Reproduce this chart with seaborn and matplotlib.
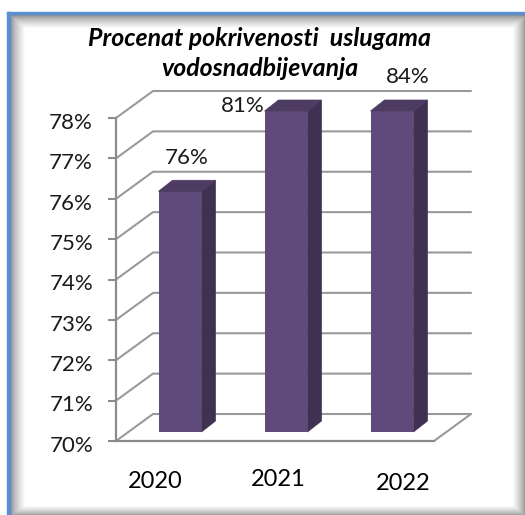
import matplotlib
matplotlib.use('Agg')
import matplotlib.pyplot as plt
import numpy as np
import seaborn as sns
from matplotlib.patches import Polygon, Rectangle
from matplotlib.lines import Line2D
from matplotlib.transforms import ScaledTranslation

years = ['2020', '2021', '2022']
values = [76, 81, 84]
y_ticks = [70, 71, 72, 73, 74, 75, 76, 77, 78]
title_lines = ['Procenat pokrivenosti  uslugama', 'vodosnadbijevanja']

sns.set_theme(style='white')
plt.rcParams['font.family'] = ['Lato', 'DejaVu Sans']

W, H = 525, 515
fig = plt.figure(figsize=(W / 100, H / 100), dpi=100)


def box(x0, y0, x1, y1):
    # pixel box (y from the top) to figure fractions
    return [x0 / W, 1 - y1 / H, (x1 - x0) / W, (y1 - y0) / H]


# picture frame with soft inner shadow
bg = fig.add_axes([0, 0, 1, 1], zorder=0)
bg.set_xlim(0, W)
bg.set_ylim(H, 0)
bg.axis('off')
yy, xx = np.mgrid[0:H, 0:W]
edge = np.minimum.reduce([(xx - 9) / 16.0, (yy - 14) / 14.0, (526 - xx) / 14.0, (516 - yy) / 11.0])
shade = np.clip(edge, 0, 1) ** 0.6
bg.imshow(0.45 + 0.55 * shade, cmap='gray', vmin=0, vmax=1, extent=(0, W, H, 0), aspect='auto')
bg.add_patch(Rectangle((0, 0), W, 13, color='white'))
bg.add_patch(Rectangle((0, 0), 7, H, color='white'))
bg.add_patch(Rectangle((7, 12), 518, 2, color='#5b8fd0'))
bg.add_patch(Rectangle((7, 12), 3, H, color='#5b8fd0'))

# front plane of the 3d box, holds the value axis
ax = fig.add_axes(box(116, 118, 434, 441), zorder=1)
ax.patch.set_alpha(0)
ax.set_xlim(0, 1)
ax.set_ylim(y_ticks[0], y_ticks[-1])
ax.set_yticks(y_ticks)
ax.set_yticklabels([f'{t}%' for t in y_ticks], fontsize=16, color='#1a1a1a')
ax.set_xticks([])
ax.tick_params(axis='y', length=5.5, width=1.5, color='#8c8c8c', left=True, pad=11)
for lab in ax.get_yticklabels():
    lab.set_transform(lab.get_transform() + ScaledTranslation(0, -2 / 72, fig.dpi_scale_trans))
for s in ['top', 'right']:
    ax.spines[s].set_visible(False)
for s in ['left', 'bottom']:
    ax.spines[s].set_color('#8c8c8c')
    ax.spines[s].set_linewidth(1.6)

# back wall gridlines and the slanted ones at the side
dx, dy = 37 / 318, 27 / (323 / 8)
for t in y_ticks:
    ax.add_line(Line2D([0, dx, 1 + dx], [t, t + dy, t + dy], color='#9a9a9a', lw=1.5, clip_on=False, zorder=1))
ax.add_line(Line2D([1, 1 + dx], [y_ticks[0], y_ticks[0] + dy], color='#9a9a9a', lw=1.5, clip_on=False, zorder=1))

# bars sit a bit inside the floor, so they get their own axes
ax_bar = fig.add_axes(box(127, 111, 445, 432), zorder=2)
ax_bar.patch.set_alpha(0)
sns.barplot(x=years, y=values, color='#604a7b', saturation=1, width=0.405, linewidth=0, ax=ax_bar)
ax_bar.set_xlim(-0.5, 2.5)
ax_bar.set_ylim(y_ticks[0], y_ticks[-1])
ax_bar.axis('off')

bx, by = 14 / 106, 11 / (321 / 8)
for p in ax_bar.patches[:len(values)]:
    x0 = p.get_x()
    x1 = x0 + p.get_width()
    top = min(p.get_height(), y_ticks[-1])
    ax_bar.add_patch(Polygon([(x1, 70), (x1 + bx, 70 + by), (x1 + bx, top + by), (x1, top)],
                             facecolor='#403152', edgecolor='#403152', lw=0.5, clip_on=False))
    ax_bar.add_patch(Polygon([(x0, top), (x0 + bx, top + by), (x1 + bx, top + by), (x1, top)],
                             facecolor='#4d3b62', edgecolor='#4d3b62', lw=0.5, clip_on=False))

# labels were dragged by hand in the original, so they go in by pixel
label_pos = [(187, 158), (243, 106), (408, 77)]
for v, (px, py) in zip(values, label_pos):
    fig.text(px / W, 1 - py / H, f'{v}%', fontsize=16, ha='center', va='center', color='#1a1a1a', zorder=5)

year_pos = [(155, 482), (278, 480), (403, 483)]
for yr, (px, py) in zip(years, year_pos):
    fig.text(px / W, 1 - py / H, yr, fontsize=17, ha='center', va='center', color='black', zorder=5)

for line, py in zip(title_lines, [38, 68]):
    fig.text(260 / W, 1 - py / H, line, fontsize=17.9, fontweight='bold', style='italic',
             ha='center', va='center', color='black', zorder=5)

fig.savefig('out.png', dpi=100)
